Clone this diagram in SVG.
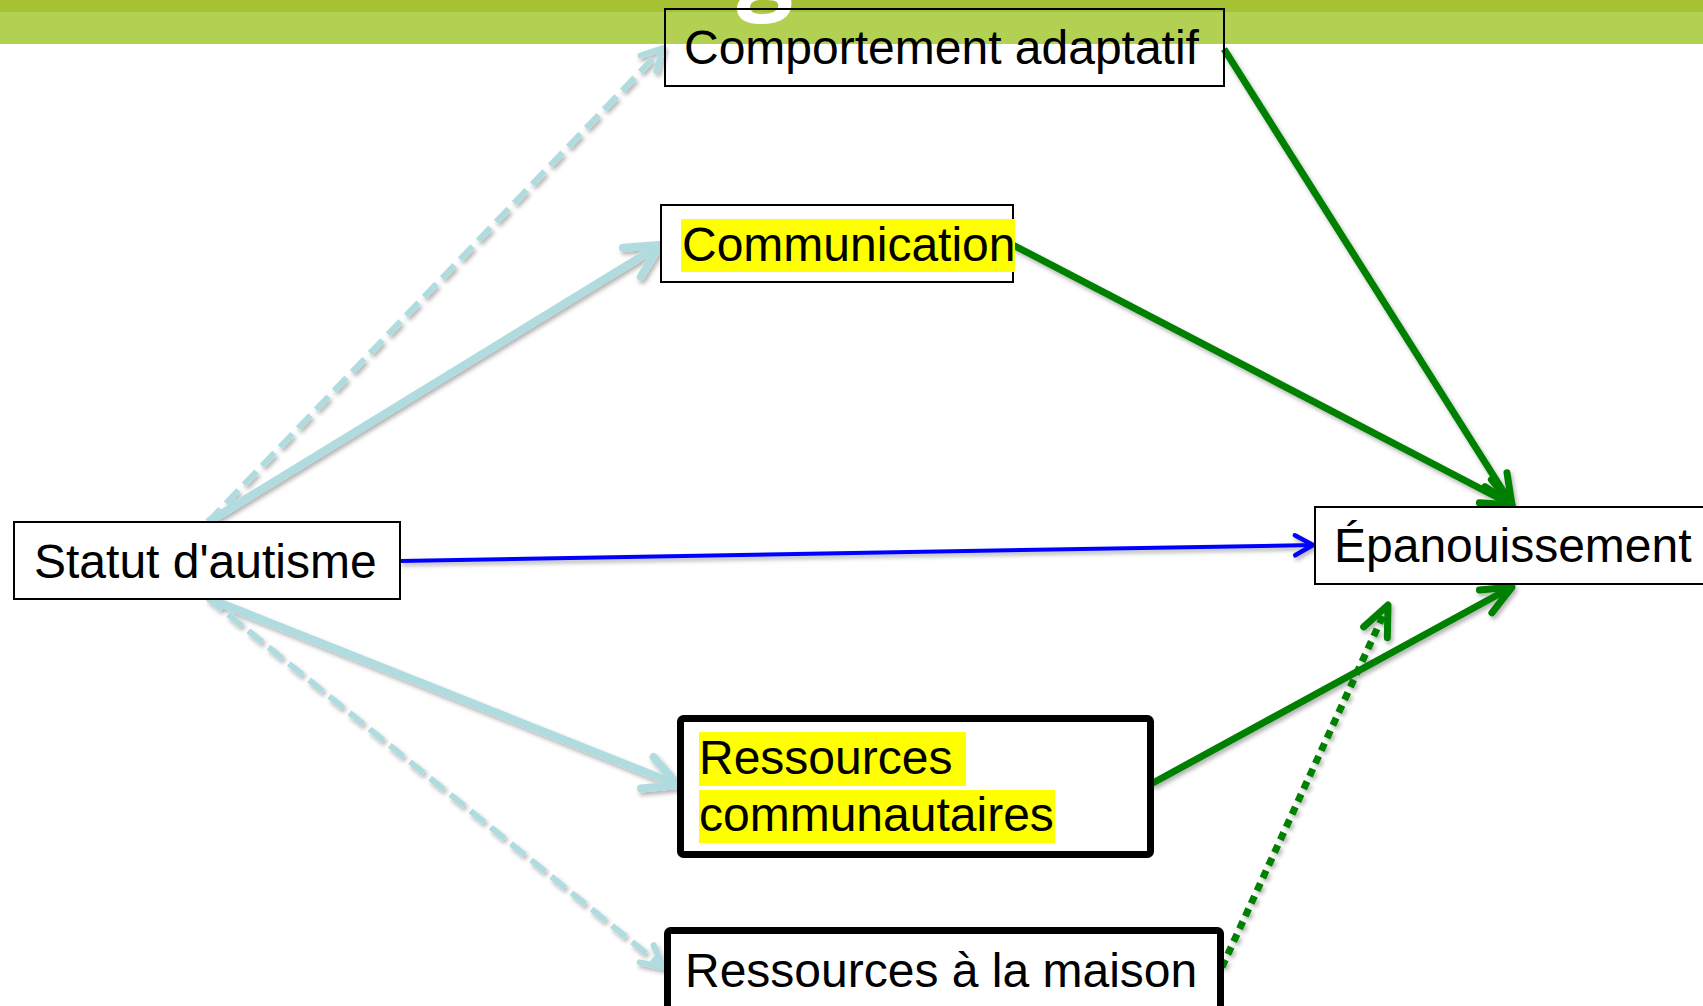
<svg xmlns="http://www.w3.org/2000/svg" width="1703" height="1006" viewBox="0 0 1703 1006">
<style>
.lbl{font-family:"Liberation Sans",Arial,sans-serif;font-size:48px;fill:#000}
.box{fill:none;stroke:#000;stroke-width:2}
.hl{fill:#FFFF00}
.lb{fill:none;stroke:#B0DCE0;stroke-width:8}
.lbd{fill:none;stroke:#B0DCE0;stroke-width:6;stroke-dasharray:18 8}
.gr{fill:none;stroke:#008000;stroke-width:7}
.grd{fill:none;stroke:#008000;stroke-width:7;stroke-dasharray:8 6}
.bl{fill:none;stroke:#0000FF;stroke-width:4}
</style>
<defs>
<filter id="sh" x="-10%" y="-10%" width="120%" height="120%">
<feDropShadow dx="2" dy="3" stdDeviation="2" flood-color="#000" flood-opacity="0.3"/>
</filter>
<marker id="mLB" markerUnits="userSpaceOnUse" viewBox="-40 -22 44 44" markerWidth="44" markerHeight="44" refX="0" refY="0" orient="auto" overflow="visible">
<path d="M-33,-17 L0,0 L-33,17" fill="none" stroke="#B0DCE0" stroke-width="8" stroke-linecap="round" stroke-linejoin="round"/>
</marker>
<marker id="mLBd" markerUnits="userSpaceOnUse" viewBox="-30 -16 34 32" markerWidth="34" markerHeight="32" refX="0" refY="0" orient="auto" overflow="visible">
<path d="M-21,-11 L0,0 L-21,11" fill="none" stroke="#B0DCE0" stroke-width="6" stroke-linecap="round" stroke-linejoin="round"/>
</marker>
<marker id="mGR" markerUnits="userSpaceOnUse" viewBox="-36 -18 40 36" markerWidth="40" markerHeight="36" refX="0" refY="0" orient="auto" overflow="visible">
<path d="M-30,-13 L0,0 L-30,13" fill="none" stroke="#008000" stroke-width="7" stroke-linecap="round" stroke-linejoin="round"/>
</marker>
<marker id="mBL" markerUnits="userSpaceOnUse" viewBox="-24 -14 28 28" markerWidth="28" markerHeight="28" refX="0" refY="0" orient="auto" overflow="visible">
<path d="M-18,-10 L0,0 L-18,10" fill="none" stroke="#0000FF" stroke-width="4.5" stroke-linecap="round" stroke-linejoin="round"/>
</marker>
</defs>
<rect x="0" y="0" width="1703" height="1006" fill="#FFFFFF"/>
<g id="banner">
<rect x="0" y="0" width="1703" height="12" fill="#A6C133"/>
<rect x="0" y="12" width="1703" height="32" fill="#B2D152"/>
<text x="765" y="0" text-anchor="middle" style="font-family:'Open Sans',sans-serif;font-weight:bold;font-size:100px;fill:#FFFFFF">g</text>
</g>
<g id="connectors" filter="url(#sh)">
<line class="lbd" x1="208" y1="522" x2="663" y2="48" marker-end="url(#mLBd)"/>
<line class="lb" x1="208" y1="522" x2="660" y2="245" marker-end="url(#mLB)"/>
<line class="lb" x1="208" y1="598" x2="678" y2="785" marker-end="url(#mLB)"/>
<line class="lbd" x1="208" y1="598" x2="663" y2="967" marker-end="url(#mLBd)"/>
<line class="bl" x1="400" y1="561" x2="1313" y2="545" marker-end="url(#mBL)"/>
<line class="gr" x1="1224" y1="49" x2="1512" y2="505" marker-end="url(#mGR)"/>
<line class="gr" x1="1013" y1="245" x2="1512" y2="505" marker-end="url(#mGR)"/>
<line class="gr" x1="1151" y1="784" x2="1512" y2="587" marker-end="url(#mGR)"/>
<line class="grd" x1="1222" y1="967" x2="1388" y2="605" marker-end="url(#mGR)"/>
</g>
<g id="node-comportement">
<rect class="box" x="665" y="9" width="559" height="77"/>
<text class="lbl" x="684" y="64">Comportement adaptatif</text>
</g>
<g id="node-communication">
<rect x="661" y="205" width="352" height="77" fill="#FFFFFF" stroke="#000" stroke-width="2"/>
<rect class="hl" x="681" y="219" width="334" height="53"/>
<text class="lbl" x="682" y="261">Communication</text>
</g>
<g id="node-statut">
<rect x="14" y="522" width="386" height="77" fill="#FFFFFF" stroke="#000" stroke-width="2"/>
<text class="lbl" x="34" y="578">Statut d'autisme</text>
</g>
<g id="node-epanouissement">
<rect x="1315" y="507" width="392" height="77" fill="#FFFFFF" stroke="#000" stroke-width="2"/>
<text class="lbl" x="1334" y="562">Épanouissement</text>
</g>
<g id="node-communautaires">
<rect x="680.5" y="718.5" width="470" height="136" rx="3" fill="#FFFFFF" stroke="#000" stroke-width="7"/>
<rect class="hl" x="699" y="732" width="267" height="54"/>
<rect class="hl" x="699" y="790" width="356" height="53"/>
<text class="lbl" x="699" y="774">Ressources </text>
<text class="lbl" x="699" y="831">communautaires</text>
</g>
<g id="node-maison">
<rect x="667.5" y="930.5" width="553" height="100" rx="3" fill="#FFFFFF" stroke="#000" stroke-width="7"/>
<text class="lbl" x="685" y="987">Ressources à la maison</text>
</g>
</svg>
